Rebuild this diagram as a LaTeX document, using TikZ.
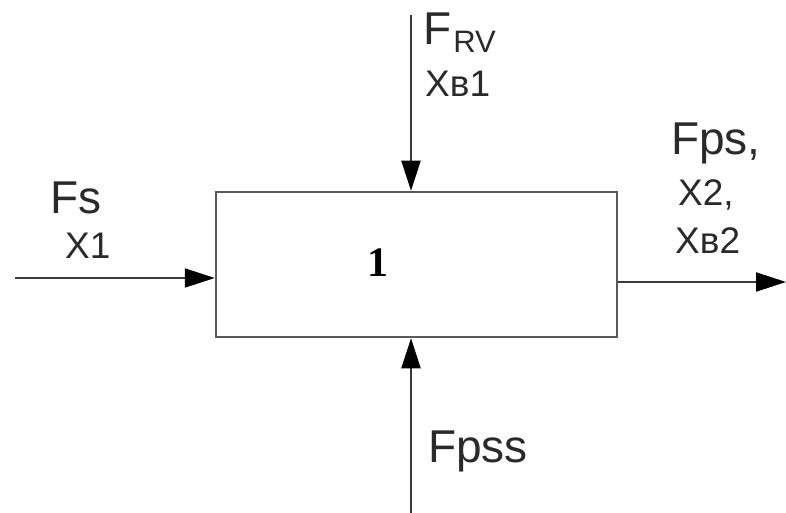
\documentclass[tikz,border=0pt]{standalone}
\usepackage{fontspec}
\setmainfont{Liberation Sans}
\newfontfamily\numfont{Liberation Serif}
\usetikzlibrary{arrows.meta}
\definecolor{txt}{HTML}{2A2A2A}
\definecolor{boxline}{HTML}{5A5A5A}
\definecolor{arrline}{HTML}{3A3A3A}
\tikzset{
  flow/.style={draw=arrline, line width=2pt, -{Triangle[length=30pt,width=19pt,color=black]}},
  bigtxt/.style={inner sep=0pt, anchor=base west, text=txt, font=\fontsize{46}{46}\selectfont},
  smalltxt/.style={inner sep=0pt, anchor=base west, text=txt, font=\fontsize{37}{37}\selectfont},
  blockbox/.style={draw=boxline, line width=2.5pt, minimum width=401pt, minimum height=145pt, inner sep=0pt}
}
\begin{document}
\begin{tikzpicture}[x=1pt,y=-1pt]
\useasboundingbox (0,0) rectangle (786,513);
\node[blockbox] (box) at (416.5,264.5) {};
\node[inner sep=0pt, text=black, font=\numfont\bfseries\fontsize{42}{42}\selectfont] (n1) at (378,263) {1};
\coordinate (ts) at (411,15);
\coordinate (bs) at (411,513);
\coordinate (ls) at (15,278);
\coordinate (re) at (786,282);
\draw[flow] (ts) -- (ts |- box.north);
\draw[flow] (bs) -- (bs |- box.south);
\draw[flow] (ls) -- (ls -| box.west);
\draw[flow] (re -| box.east) -- (re);
\node[bigtxt] (frv) at (423,45) {F\kern2pt\raisebox{-8pt}{\fontsize{31}{31}\selectfont RV}};
\node[smalltxt] (xb1) at (425,97) {Xв1};
\node[bigtxt] (fs) at (50,213) {Fs};
\node[smalltxt] (x1) at (65,258) {X1};
\node[bigtxt] (fps) at (671,155) {Fps,};
\node[smalltxt] (x2) at (678,205) {X2,};
\node[smalltxt] (xb2) at (675,253) {Xв2};
\node[bigtxt] (fpss) at (428,462) {Fpss};
\end{tikzpicture}
\end{document}
